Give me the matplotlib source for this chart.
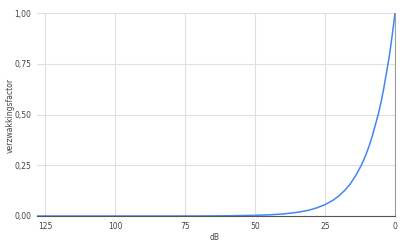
import matplotlib
matplotlib.use("Agg")
import matplotlib.pyplot as plt
from matplotlib.ticker import FuncFormatter

# values (dB attenuation -> factor)
db = [0, 0.5, 1, 1.5, 2, 2.5, 3, 3.5, 4, 5, 6, 7, 8, 9, 10, 11, 12, 14, 16,
      18, 20, 22, 25, 28, 31, 35, 40, 45, 50, 60, 70, 80, 100, 128]
factor = [1.00, 0.944, 0.89, 0.84, 0.79, 0.75, 0.71, 0.67, 0.63, 0.56, 0.50,
          0.45, 0.40, 0.355, 0.316, 0.282, 0.251, 0.200, 0.158, 0.126, 0.100,
          0.079, 0.056, 0.040, 0.028, 0.018, 0.010, 0.0056, 0.0032, 0.0010,
          0.0003, 0.0001, 0.0, 0.0]
x_ticks = [125, 100, 75, 50, 25, 0]
y_ticks = [0.0, 0.25, 0.5, 0.75, 1.0]

fig = plt.figure(figsize=(4.0, 2.44), dpi=100)
ax = fig.add_axes([37 / 400, 1 - 216 / 244, 358 / 400, 203 / 244])

ax.plot(db, factor, color="#4285f4", linewidth=1.1, solid_capstyle="round",
        zorder=3)
ax.set_xlim(128, 0)
ax.set_ylim(0, 1.0)
ax.set_xticks(x_ticks)
ax.set_yticks(y_ticks)
ax.yaxis.set_major_formatter(FuncFormatter(lambda v, _: f"{v:.2f}".replace(".", ",")))
ax.grid(True, color="#e0e0e0", linewidth=0.8)
for side in ("top", "left"):
    ax.spines[side].set_visible(False)
ax.spines["bottom"].set_color("#555555")
ax.spines["bottom"].set_linewidth(0.8)
ax.spines["right"].set_color("#9e9e9e")
ax.spines["right"].set_linewidth(0.8)
ax.tick_params(length=0, labelsize=5.5, labelcolor="#444444", pad=4)

fig.text(215 / 400, 1 - 237 / 244, "dB", fontsize=5.5, color="#444444",
         ha="center", va="center")
fig.text(10 / 400, 1 - 115 / 244, "verzwakkingsfactor", fontsize=5.5,
         color="#444444", rotation=90, ha="center", va="center")

fig.savefig("out.png", dpi=100)
